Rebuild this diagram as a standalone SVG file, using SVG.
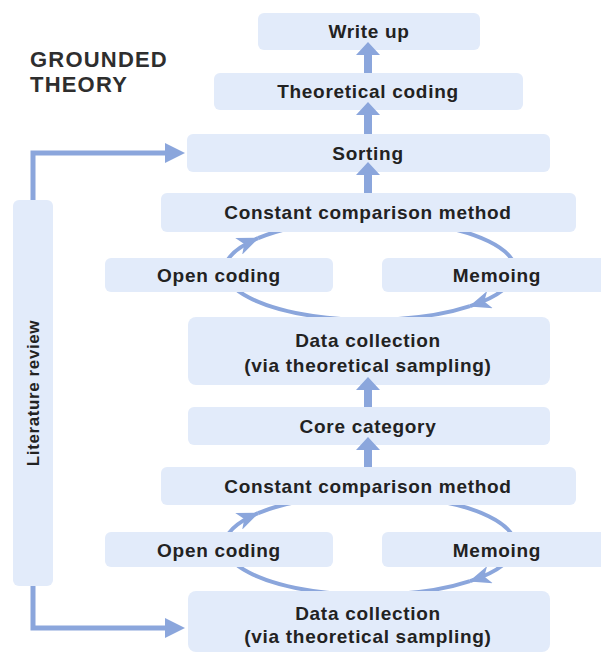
<svg xmlns="http://www.w3.org/2000/svg" width="601" height="655" viewBox="0 0 601 655">
<style>
.box{fill:#e2ebfa;}
.lbl{font-family:"Liberation Sans",Arial,sans-serif;font-weight:bold;font-size:19px;letter-spacing:0.7px;fill:#222;text-anchor:middle;}
.title{font-family:"Liberation Sans",Arial,sans-serif;font-weight:bold;font-size:22px;letter-spacing:1.2px;fill:#2e2e2e;}
.arr{fill:#8ba6dc;}
.line{fill:none;stroke:#8ba6dc;stroke-width:5;}
.cyc{fill:none;stroke:#8ba6dc;stroke-width:4;}
</style>
<defs>
<marker id="ah" viewBox="0 0 22 18" refX="21" refY="9" markerWidth="22" markerHeight="18" markerUnits="userSpaceOnUse" orient="auto">
<path d="M0,0 L22,9 L0,18 L6,9 z" fill="#8ba6dc"/>
</marker>
</defs>
<rect width="601" height="655" fill="#ffffff"/>
<text class="title" x="30" y="67">GROUNDED</text>
<text class="title" x="30" y="92">THEORY</text>

<g id="cycles">
<path class="cyc" d="M225,270 A145,50 0 0 1 258.1,238.2" marker-end="url(#ah)"/>
<path class="cyc" d="M258.1,238.2 A145,50 0 0 1 515,270"/>
<path class="cyc" d="M515,270 A145,50 0 0 1 470,306.2" marker-end="url(#ah)"/>
<path class="cyc" d="M470,306.2 A145,50 0 0 1 225,270"/>
<path class="cyc" d="M225,545 A145,50 0 0 1 258.1,513.2" marker-end="url(#ah)"/>
<path class="cyc" d="M258.1,513.2 A145,50 0 0 1 515,545"/>
<path class="cyc" d="M515,545 A145,50 0 0 1 470,581.2" marker-end="url(#ah)"/>
<path class="cyc" d="M470,581.2 A145,50 0 0 1 225,545"/>
</g>

<g id="write-up"><rect class="box" x="258" y="13" width="222" height="37" rx="6"/><text class="lbl" x="369" y="38">Write up</text></g>
<g id="theoretical-coding"><rect class="box" x="214" y="73" width="309" height="37" rx="6"/><text class="lbl" x="368" y="98">Theoretical coding</text></g>
<g id="sorting"><rect class="box" x="187" y="134" width="363" height="38" rx="6"/><text class="lbl" x="368" y="160">Sorting</text></g>
<g id="ccm-top"><rect class="box" x="161" y="193" width="415" height="39" rx="6"/><text class="lbl" x="368" y="219">Constant comparison method</text></g>
<g id="open-coding-top"><rect class="box" x="105" y="258" width="228" height="34" rx="6"/><text class="lbl" x="219" y="282">Open coding</text></g>
<g id="memoing-top"><rect class="box" x="382" y="258" width="230" height="34" rx="6"/><text class="lbl" x="497" y="282">Memoing</text></g>
<g id="data-collection-top"><rect class="box" x="188" y="317" width="362" height="68" rx="8"/><text class="lbl" x="368" y="347">Data collection</text><text class="lbl" x="368" y="372">(via theoretical sampling)</text></g>
<g id="core-category"><rect class="box" x="188" y="407" width="362" height="38" rx="6"/><text class="lbl" x="368" y="433">Core category</text></g>
<g id="ccm-bottom"><rect class="box" x="161" y="467" width="415" height="38" rx="6"/><text class="lbl" x="368" y="493">Constant comparison method</text></g>
<g id="open-coding-bottom"><rect class="box" x="105" y="532" width="228" height="35" rx="6"/><text class="lbl" x="219" y="557">Open coding</text></g>
<g id="memoing-bottom"><rect class="box" x="382" y="532" width="230" height="35" rx="6"/><text class="lbl" x="497" y="557">Memoing</text></g>
<g id="data-collection-bottom"><rect class="box" x="188" y="591" width="362" height="61" rx="8"/><text class="lbl" x="368" y="620">Data collection</text><text class="lbl" x="368" y="643">(via theoretical sampling)</text></g>
<g id="literature-review"><rect class="box" x="13" y="200" width="40" height="386" rx="6"/><text class="lbl" style="font-size:17px;letter-spacing:0.6px" transform="translate(39,393) rotate(-90)" x="0" y="0">Literature review</text></g>

<g id="connectors">
<polygon class="arr" points="368,42 380,55 372,55 372,73 364,73 364,55 356,55"/>
<polygon class="arr" points="368,102 380,115 372,115 372,134 364,134 364,115 356,115"/>
<polygon class="arr" points="368,162 380,175 372,175 372,193 364,193 364,175 356,175"/>
<polygon class="arr" points="368,377 380,390 372,390 372,407 364,407 364,390 356,390"/>
<polygon class="arr" points="368,437 380,450 372,450 372,467 364,467 364,450 356,450"/>
<path class="line" d="M33,200 V153 H168"/>
<polygon class="arr" points="185,153 165,143 165,163"/>
<path class="line" d="M33,586 V628 H168"/>
<polygon class="arr" points="185,628 165,618 165,638"/>
</g>
</svg>
